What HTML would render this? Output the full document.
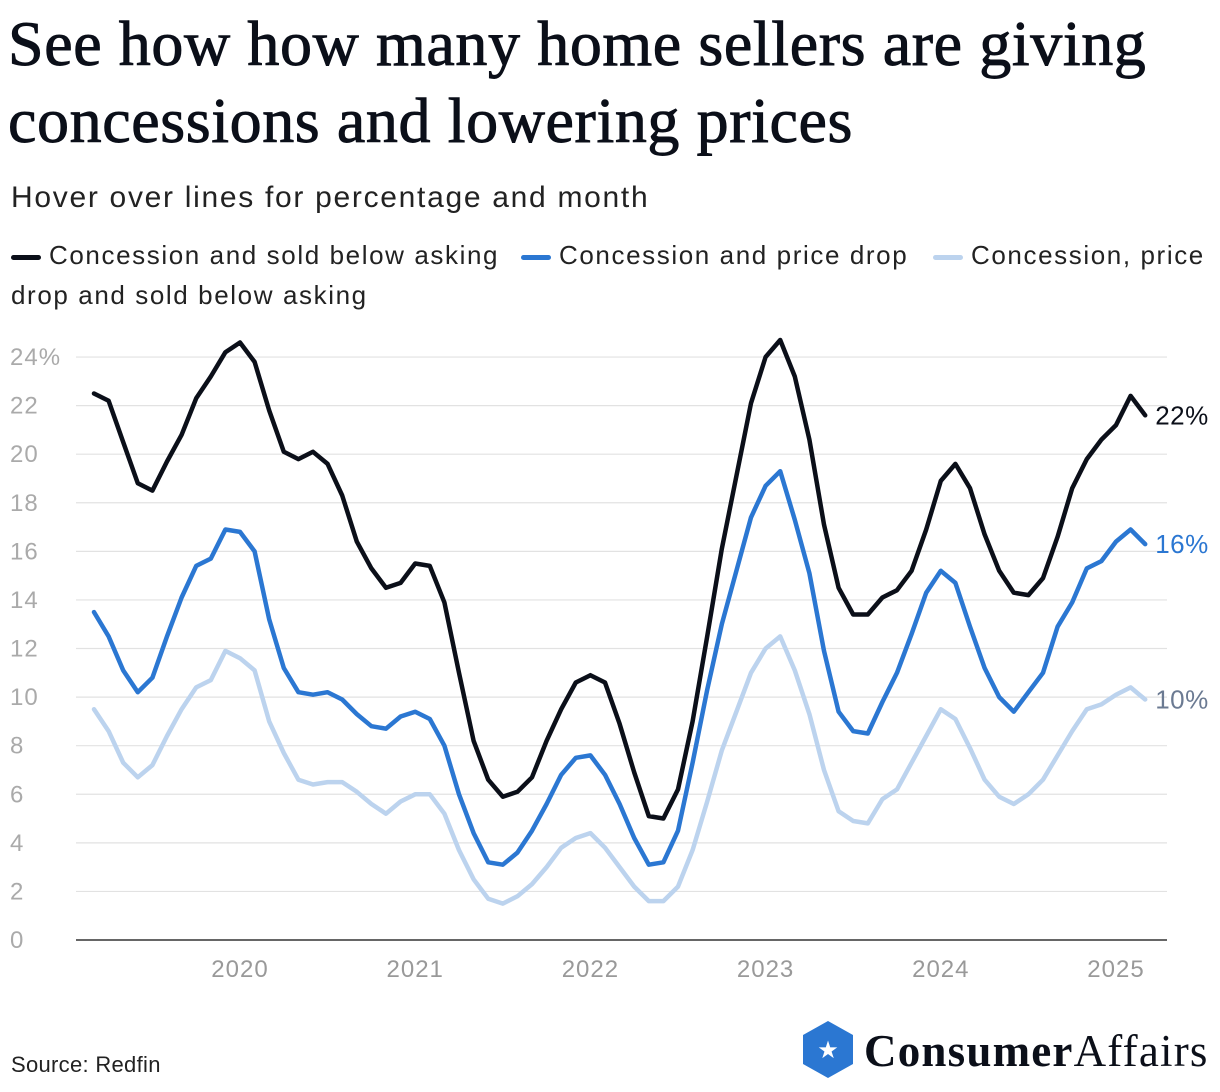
<!DOCTYPE html>
<html><head><meta charset="utf-8"><style>
body{margin:0;background:#fff;width:1220px;height:1092px;overflow:hidden;font-family:"Liberation Sans",sans-serif;color:#111}
#title{position:absolute;left:8px;top:5px;font-family:"Liberation Serif",serif;font-size:64px;line-height:77px;letter-spacing:0.6px;color:#0b0f19;margin:0;font-weight:normal;-webkit-text-stroke:0.9px #0b0f19;white-space:nowrap}
#sub{position:absolute;left:11px;top:181px;font-size:30px;letter-spacing:1.7px;color:#222}
.lg{position:absolute;font-size:26px;letter-spacing:1.6px;color:#222;white-space:nowrap}
.sw{display:inline-block;width:30px;height:5px;border-radius:3px;vertical-align:middle;margin-right:8px}
#src{position:absolute;left:11px;top:1052px;font-size:22px;letter-spacing:0.3px;color:#222}
svg{position:absolute;left:0;top:0}
</style></head><body>
<h1 id="title">See how how many home sellers are giving<br>concessions and lowering prices</h1>
<div id="sub">Hover over lines for percentage and month</div>
<div>
<span class="lg" style="left:11px;top:240px"><span class="sw" style="background:#0b0f19"></span>Concession and sold below asking</span>
<span class="lg" style="left:521px;top:240px"><span class="sw" style="background:#2b77d2"></span>Concession and price drop</span>
<span class="lg" style="left:933px;top:240px"><span class="sw" style="background:#bcd3ee"></span>Concession, price</span>
<span class="lg" style="left:11px;top:280px">drop and sold below asking</span>
</div>
<div id="src">Source: Redfin</div>
<svg id="chart" width="1220" height="1092"></svg>
<svg width="1220" height="1092" style="pointer-events:none">
<polygon points="828,1021 853,1035 853,1064 828,1078 803,1064 803,1035" fill="#2b77d2"/>
<text x="828" y="1058" text-anchor="middle" font-size="24" fill="#fff" font-family="DejaVu Sans">★</text>
<text x="864" y="1066" font-family="Liberation Serif,serif" font-size="45" font-weight="bold" fill="#0b0f19" letter-spacing="1.2">Consumer<tspan font-weight="normal">Affairs</tspan></text>
</svg>
<script>
const black=[22.5,22.2,20.5,18.8,18.5,19.7,20.8,22.3,23.2,24.2,24.6,23.8,21.8,20.1,19.8,20.1,19.6,18.3,16.4,15.3,14.5,14.7,15.5,15.4,13.9,11.0,8.2,6.6,5.9,6.1,6.7,8.2,9.5,10.6,10.9,10.6,8.9,6.9,5.1,5.0,6.2,9.0,12.5,16.1,19.1,22.1,24.0,24.7,23.2,20.6,17.1,14.5,13.4,13.4,14.1,14.4,15.2,16.9,18.9,19.6,18.6,16.7,15.2,14.3,14.2,14.9,16.6,18.6,19.8,20.6,21.2,22.4,21.6];
const blue=[13.5,12.5,11.1,10.2,10.8,12.5,14.1,15.4,15.7,16.9,16.8,16.0,13.2,11.2,10.2,10.1,10.2,9.9,9.3,8.8,8.7,9.2,9.4,9.1,8.0,6.0,4.4,3.2,3.1,3.6,4.5,5.6,6.8,7.5,7.6,6.8,5.6,4.2,3.1,3.2,4.5,7.3,10.3,13.0,15.2,17.4,18.7,19.3,17.3,15.1,11.9,9.4,8.6,8.5,9.8,11.0,12.6,14.3,15.2,14.7,12.9,11.2,10.0,9.4,10.2,11.0,12.9,13.9,15.3,15.6,16.4,16.9,16.3];
const light=[9.5,8.6,7.3,6.7,7.2,8.4,9.5,10.4,10.7,11.9,11.6,11.1,9.0,7.7,6.6,6.4,6.5,6.5,6.1,5.6,5.2,5.7,6.0,6.0,5.2,3.7,2.5,1.7,1.5,1.8,2.3,3.0,3.8,4.2,4.4,3.8,3.0,2.2,1.6,1.6,2.2,3.7,5.7,7.8,9.4,11.0,12.0,12.5,11.1,9.3,7.0,5.3,4.9,4.8,5.8,6.2,7.3,8.4,9.5,9.1,7.9,6.6,5.9,5.6,6.0,6.6,7.6,8.6,9.5,9.7,10.1,10.4,9.9];
const yTicks=[0,2,4,6,8,10,12,14,16,18,20,22,24];
const xYears=[2020,2021,2022,2023,2024,2025];
const startMonth=2;
const startYear=2019;
const ns="http://www.w3.org/2000/svg",svg=document.getElementById('chart');
const x0=94,perMonth=14.6,y0=940,perUnit=24.29;
const xm=i=>x0+perMonth*i;
const xy=yr=>x0+perMonth*((yr-startYear)*12-startMonth);
const yv=v=>y0-perUnit*v;
function mk(t,a){const e=document.createElementNS(ns,t);for(const k in a)e.setAttribute(k,a[k]);svg.appendChild(e);return e;}
yTicks.forEach(t=>{
 if(t>0){const g=mk('line',{x1:76,x2:1167,y1:yv(t),y2:yv(t),stroke:'#e2e2e2','stroke-width':1.2});
 
 }
 const l=mk('text',{x:10,y:yv(t)+8,'font-size':24,'letter-spacing':1,fill:'#aaa','font-family':'Liberation Sans,sans-serif'});
 l.textContent=t+(t===24?'%':'');
 
 
});
const ax=mk('line',{x1:76,x2:1167,y1:y0,y2:y0,stroke:'#333','stroke-width':1.5});


xYears.forEach(yr=>{
 const l=mk('text',{x:xy(yr),y:977,'font-size':24,'letter-spacing':1,fill:'#999','text-anchor':'middle','font-family':'Liberation Sans,sans-serif'});
 l.textContent=yr;
 
 
});
[[light,'#bcd3ee','light','#6b7a92'],[blue,'#2b77d2','blue','#2b77d2'],[black,'#0b0f19','black','#0b0f19']].forEach(([d,c,n,lc])=>{
 const p=mk('path',{d:d.map((v,i)=>(i?'L':'M')+xm(i).toFixed(1)+','+yv(v).toFixed(1)).join(''),fill:'none',stroke:c,'stroke-width':4.5,'stroke-linejoin':'round','stroke-linecap':'round'});
 
 
 const last=d[d.length-1];
 const t=mk('text',{x:xm(d.length-1)+10,y:yv(last)+9,'font-size':26,'letter-spacing':0.5,fill:lc,'font-family':'Liberation Sans,sans-serif'});
 t.textContent=Math.round(last)+'%';
 
 
});
</script>
</body></html>
